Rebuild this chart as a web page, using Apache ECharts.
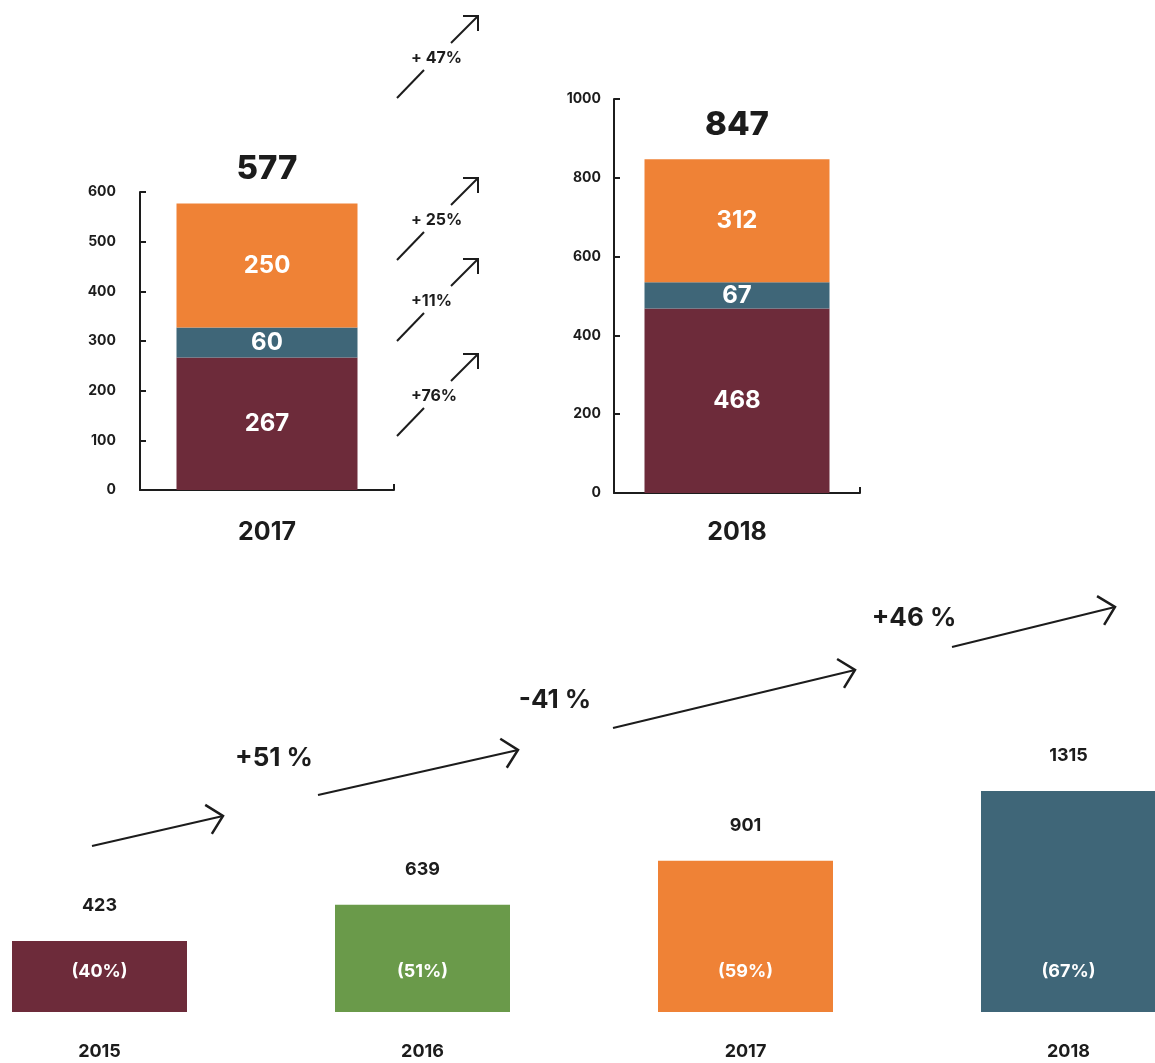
<!DOCTYPE html>
<html><head><meta charset="utf-8">
<script src="https://cdn.jsdelivr.net/npm/echarts@6/dist/echarts.min.js"></script>
<style>html,body{margin:0;padding:0;background:#fff}#c{width:1155px;height:1063px}</style>
</head><body><div id="c"></div>
<script>
// ---- data ----
const topYears = ['2017', '2018'];
const segDark = [267, 468];
const segTeal = [60, 67];
const segOrange = [250, 312];
const topTotals = [577, 847];
const topAxisMax = [600, 1000];
const topAxisInterval = [100, 200];
const topChanges = ['+ 47%', '+ 25%', '+11%', '+76%'];

const bottomYears = ['2015', '2016', '2017', '2018'];
const bottomValues = [423, 639, 901, 1315];
const bottomShares = ['(40%)', '(51%)', '(59%)', '(67%)'];
const bottomChanges = ['+51 %', '-41 %', '+46 %'];

// ---- styles / layout ----
const FONT = 'Inter';
const INK = '#1c1c1c';
const C_DARK = '#6d2b3a', C_TEAL = '#3f6678', C_ORANGE = '#ef8236', C_GREEN = '#6a9a4a';
const bottomColors = [C_DARK, C_GREEN, C_ORANGE, C_TEAL];

const topGrids = [
  {left: 140, top: 192, width: 254, height: 298},
  {left: 614, top: 99, width: 246, height: 394}
];
const topBarWidth = [181, 185];
const topYLabelMargin = [24, 13];
const topXLabelMargin = [30, 27];

const grids = topGrids.map(g => Object.assign({containLabel: false, outerBoundsMode: 'none'}, g));
grids.push({left: -62, top: 676, width: 1292, height: 336, containLabel: false, outerBoundsMode: 'none'});

const xAxes = [], yAxes = [], series = [];
topYears.forEach((yr, i) => {
  xAxes.push({
    type: 'category', gridIndex: i, data: [yr],
    axisLine: {show: true, lineStyle: {color: INK, width: 2}},
    axisTick: {show: true, inside: true, length: 6, lineStyle: {color: INK, width: 2}},
    axisLabel: {color: INK, fontFamily: FONT, fontWeight: 700, fontSize: 25, margin: topXLabelMargin[i]}
  });
  yAxes.push({
    type: 'value', gridIndex: i, min: 0, max: topAxisMax[i], interval: topAxisInterval[i],
    axisLine: {show: true, lineStyle: {color: INK, width: 2}},
    axisTick: {show: true, inside: true, length: 6, lineStyle: {color: INK, width: 2}},
    splitLine: {show: false},
    axisLabel: {color: INK, fontFamily: FONT, fontWeight: 700, fontSize: 14, margin: topYLabelMargin[i],
      formatter: v => String(v)}
  });
  const segs = [[segDark, C_DARK], [segTeal, C_TEAL], [segOrange, C_ORANGE]];
  segs.forEach(([arr, col]) => {
    series.push({
      type: 'bar', xAxisIndex: i, yAxisIndex: i, stack: 's' + i, barWidth: topBarWidth[i],
      data: [arr[i]], itemStyle: {color: col}, silent: true,
      label: {show: true, position: 'inside', color: '#fff', fontFamily: FONT, fontWeight: 700, fontSize: 24}
    });
  });
  series.push({
    type: 'bar', xAxisIndex: i, yAxisIndex: i, stack: 's' + i, barWidth: topBarWidth[i],
    data: [0], itemStyle: {color: 'transparent'}, silent: true,
    label: {show: true, position: 'top', distance: 18, formatter: String(topTotals[i]),
      color: INK, fontFamily: FONT, fontWeight: 800, fontSize: 33}
  });
});

xAxes.push({
  type: 'category', gridIndex: 2, data: bottomYears,
  axisLine: {show: false}, axisTick: {show: false},
  axisLabel: {color: INK, fontFamily: FONT, fontWeight: 700, fontSize: 18, margin: 31}
});
yAxes.push({type: 'value', gridIndex: 2, min: 0, max: 2000, show: false});
series.push({
  type: 'bar', xAxisIndex: 2, yAxisIndex: 2, stack: 'b', barWidth: 175, silent: true,
  data: bottomValues.map((v, i) => ({value: v, itemStyle: {color: bottomColors[i]}})),
  label: {show: true, position: 'insideBottom', distance: 31, color: '#fff', fontFamily: FONT,
    fontWeight: 700, fontSize: 18, formatter: p => bottomShares[p.dataIndex]}
});
series.push({
  type: 'bar', xAxisIndex: 2, yAxisIndex: 2, stack: 'b', barWidth: 175, silent: true,
  data: bottomValues.map(() => 0), itemStyle: {color: 'transparent'},
  label: {show: true, position: 'top', distance: 26, color: INK, fontFamily: FONT,
    fontWeight: 700, fontSize: 18, formatter: p => String(bottomValues[p.dataIndex])}
});

// ---- annotation arrows ----
const graphic = [];
const LINE = {stroke: INK, lineWidth: 2, fill: null};
const topArrowBaseY = [98, 260, 341, 436];
topArrowBaseY.forEach((y0, k) => {
  graphic.push({type: 'polyline', shape: {points: [[397, y0], [424, y0 - 28]]}, style: LINE, silent: true});
  graphic.push({type: 'polyline', shape: {points: [[451, y0 - 55], [478, y0 - 82]]}, style: LINE, silent: true});
  graphic.push({type: 'polyline', shape: {points: [[463, y0 - 82], [478, y0 - 82], [478, y0 - 67]]}, style: LINE, silent: true});
  graphic.push({type: 'text', x: 411, y: y0 - 40, silent: true,
    style: {text: topChanges[k], fill: INK, fontFamily: FONT, fontWeight: 700, fontSize: 16, align: 'left', verticalAlign: 'middle'}});
});
const bottomArrows = [
  [[92, 846], [223, 816]],
  [[318, 795], [518, 750]],
  [[613, 728], [855, 670]],
  [[952, 647], [1115, 607]]
];
bottomArrows.forEach(([a, b]) => {
  graphic.push({type: 'polyline', shape: {points: [a, b]}, style: LINE, silent: true});
  const ang = Math.atan2(b[1] - a[1], b[0] - a[0]) + Math.PI;
  const L = 21, d = 45 * Math.PI / 180;
  const p1 = [b[0] + L * Math.cos(ang - d), b[1] + L * Math.sin(ang - d)];
  const p2 = [b[0] + L * Math.cos(ang + d), b[1] + L * Math.sin(ang + d)];
  graphic.push({type: 'polyline', shape: {points: [p1, b, p2]}, style: {stroke: INK, lineWidth: 2.5, fill: null}, silent: true});
});
const bottomChangePos = [[274, 758], [555, 700], [914, 618]];
bottomChanges.forEach((t, k) => {
  graphic.push({type: 'text', x: bottomChangePos[k][0], y: bottomChangePos[k][1], silent: true,
    style: {text: t, fill: INK, fontFamily: FONT, fontWeight: 700, fontSize: 26, align: 'center', verticalAlign: 'middle'}});
});

const chart = echarts.init(document.getElementById('c'), null, {renderer: 'canvas'});
chart.setOption({
  animation: false,
  backgroundColor: '#fff',
  grid: grids, xAxis: xAxes, yAxis: yAxes, series: series, graphic: graphic
});
</script></body></html>
